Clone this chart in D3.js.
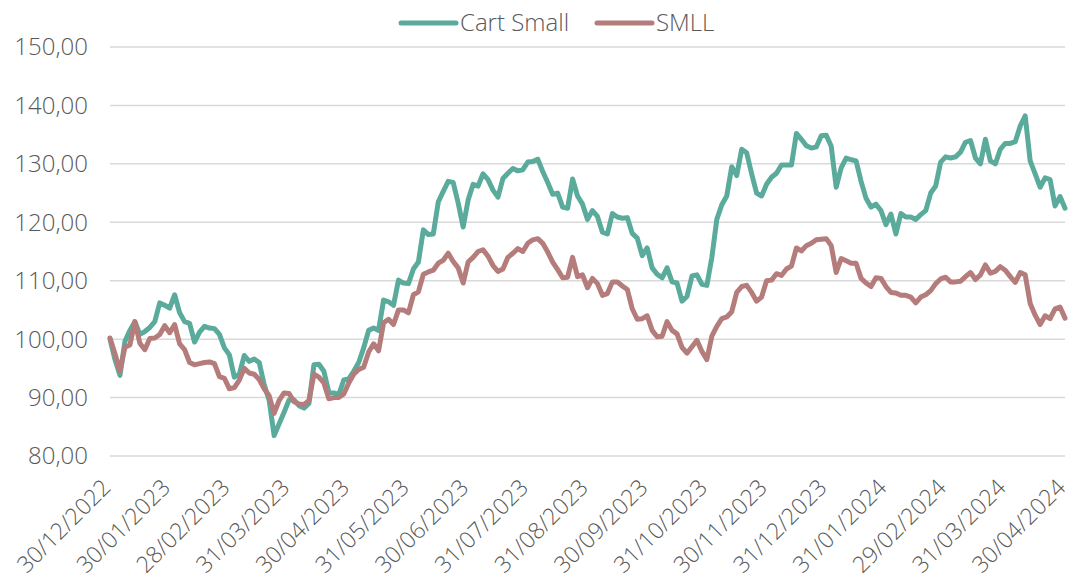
<!DOCTYPE html>
<html>
<head>
<meta charset="utf-8">
<script src="https://cdn.jsdelivr.net/npm/d3@7"></script>
<style>
  body { margin: 0; background: #fff; }
  svg { font-family: "Open Sans", sans-serif; font-weight: 300; }
</style>
</head>
<body>
<div id="chart"></div>
<script>
// month-end labels on the category axis, 12 samples per month between labels
const monthLabels = ['30/12/2022', '30/01/2023', '28/02/2023', '31/03/2023', '30/04/2023',
  '31/05/2023', '30/06/2023', '31/07/2023', '31/08/2023', '30/09/2023', '31/10/2023',
  '30/11/2023', '31/12/2023', '31/01/2024', '29/02/2024', '31/03/2024', '30/04/2024'];
const samplesPerMonth = 12;

const seriesNames = ['Cart Small', 'SMLL'];

const cartSmall = [
  100, 96.5, 93.8, 99.6, 101.5, 103, 100.8, 101.3, 102, 103, 106.2, 105.8,
  105.3, 107.6, 104.5, 103, 102.7, 99.5, 101.2, 102.2, 101.9, 101.8, 100.8, 98.5,
  97.3, 93.5, 94, 97.2, 96.2, 96.6, 96, 92.2, 89.5, 83.5, 85.5, 87.5,
  89.6, 89.6, 88.6, 88.2, 89, 95.6, 95.7, 94.5, 90.9, 90.8, 90.5, 93,
  93.2, 94.5, 96, 98.5, 101.5, 101.9, 101.5, 106.7, 106.4, 105.8, 110.1, 109.6,
  109.5, 112, 113.2, 118.7, 117.9, 118, 123.5, 125.3, 127, 126.8, 123.3, 119.2,
  123.8, 126.5, 126.2, 128.3, 127.3, 125.5, 124.3, 127.5, 128.4, 129.2, 128.8, 129,
  130.3, 130.4, 130.8, 128.7, 126.8, 124.8, 125, 122.6, 122.4, 127.4, 124.5, 123.1,
  120.5, 122, 121, 118.3, 118, 121.5, 120.9, 120.7, 120.8, 118.1, 117.3, 114.3,
  115.6, 112.2, 111.1, 110.5, 112.2, 109.8, 109.6, 106.5, 107.3, 110.8, 111, 109.4,
  109.2, 114, 120.5, 123, 124.5, 129.5, 128, 132.5, 131.9, 128.3, 125, 124.5,
  126.5, 127.7, 128.4, 129.8, 129.8, 129.8, 135.2, 134.2, 133.1, 132.7, 132.9, 134.8,
  134.9, 133, 126, 129.3, 131, 130.7, 130.5, 127, 124.1, 122.6, 123.1, 122,
  119.6, 121.4, 118, 121.5, 120.9, 120.9, 120.5, 121.3, 122, 125, 126.2, 130.3,
  131.2, 131, 131.2, 132, 133.7, 134, 131, 130, 134.2, 130.5, 130, 132.5,
  133.5, 133.5, 133.8, 136.5, 138.2, 130.5, 128.3, 126, 127.6, 127.3, 122.8, 124.4,
  122.4
];

const smll = [
  100.2, 97.5, 94.5, 98.6, 99, 103, 99.3, 98.2, 100.1, 100.2, 100.8, 102.3,
  101.1, 102.5, 99.2, 98.2, 96, 95.6, 95.8, 96, 96.1, 95.8, 93.6, 93.3,
  91.5, 91.7, 93, 95, 94.2, 94, 93.1, 91.5, 90.3, 87.3, 89.5, 90.8,
  90.7, 89.3, 88.9, 88.8, 89.5, 94, 93.5, 92.5, 89.8, 90, 90, 90.6,
  92.5, 94, 94.8, 95.2, 97.8, 99.2, 98, 102.8, 103.4, 102.5, 105, 105,
  104.5, 107.6, 108.1, 111.1, 111.5, 111.8, 113, 113.5, 114.7, 113.3, 112.2, 109.6,
  113.2, 114, 115, 115.3, 114.2, 112.6, 111.6, 112, 114, 114.7, 115.5, 115,
  116.4, 117, 117.2, 116.4, 114.9, 113.2, 111.9, 110.5, 110.6, 114, 110.7, 111,
  108.8, 110.4, 109.5, 107.5, 107.8, 109.8, 109.8, 109.1, 108.5, 105.2, 103.4, 103.5,
  104, 101.5, 100.4, 100.5, 103, 101.5, 100.9, 98.6, 97.6, 98.7, 99.8, 97.9,
  96.5, 100.5, 102.2, 103.5, 103.8, 104.7, 108, 109, 109.2, 108, 106.5, 107.2,
  110, 110.1, 111.2, 110.9, 112, 112.5, 115.6, 115.1, 116, 116.4, 117, 117.1,
  117.2, 116, 111.4, 113.8, 113.4, 113, 113, 110.4, 109.6, 109, 110.5, 110.4,
  109, 108, 107.9, 107.5, 107.5, 107.2, 106.2, 107.2, 107.6, 108.3, 109.5, 110.3,
  110.6, 109.8, 109.8, 109.9, 110.7, 111.4, 110.2, 111, 112.7, 111.3, 111.6, 112.4,
  111.8, 110.7, 109.7, 111.4, 111, 106.1, 104.1, 102.5, 104, 103.5, 105.2, 105.5,
  103.6
];

const yTicks = [80, 90, 100, 110, 120, 130, 140, 150];

const width = 1071, height = 583;
const margin = {top: 47, right: 6, bottom: 127, left: 110};
const colors = ['#5aab9c', '#b47c7a'];
const textColor = '#595959';

const locale = d3.formatLocale({decimal: ',', thousands: '.', grouping: [3], currency: ['', '€']});
const fmt = locale.format('.2f');

const x = d3.scaleLinear()
  .domain([0, (monthLabels.length - 1) * samplesPerMonth])
  .range([margin.left, width - margin.right]);
const y = d3.scaleLinear()
  .domain([80, 150])
  .range([height - margin.bottom, margin.top]);

const svg = d3.select('#chart').append('svg')
  .attr('width', width)
  .attr('height', height)
  .attr('viewBox', [0, 0, width, height]);

// horizontal grid
svg.append('g')
  .selectAll('line')
  .data(yTicks)
  .join('line')
  .attr('x1', x.range()[0])
  .attr('x2', x.range()[1])
  .attr('y1', d => y(d))
  .attr('y2', d => y(d))
  .attr('stroke', '#d9d9d9')
  .attr('stroke-width', 1.5);

// y labels
svg.append('g')
  .selectAll('text')
  .data(yTicks)
  .join('text')
  .attr('x', 88)
  .attr('y', d => y(d))
  .attr('dy', '0.35em')
  .attr('text-anchor', 'end')
  .attr('fill', textColor)
  .style('font-size', '24px')
  .text(d => fmt(d));

// x labels, rotated
svg.append('g')
  .selectAll('text')
  .data(monthLabels)
  .join('text')
  .attr('transform', (d, i) => `translate(${x(i * samplesPerMonth) + 2},${height - margin.bottom + 33}) rotate(-45)`)
  .attr('text-anchor', 'end')
  .attr('fill', textColor)
  .style('font-size', '23px')
  .text(d => d);

const line = d3.line()
  .x((d, i) => x(i))
  .y(d => y(d));

svg.append('g')
  .selectAll('path')
  .data([cartSmall, smll])
  .join('path')
  .attr('d', line)
  .attr('fill', 'none')
  .attr('stroke', (d, i) => colors[i])
  .attr('stroke-width', 5)
  .attr('stroke-linejoin', 'round')
  .attr('stroke-linecap', 'round');

// legend
const legend = svg.append('g')
  .selectAll('g')
  .data(seriesNames)
  .join('g')
  .attr('transform', (d, i) => `translate(${[401, 597][i]},23)`);

legend.append('line')
  .attr('x1', 0)
  .attr('x2', 55)
  .attr('stroke', (d, i) => colors[i])
  .attr('stroke-width', 5)
  .attr('stroke-linecap', 'round');

legend.append('text')
  .attr('x', 59)
  .attr('dy', '0.35em')
  .attr('fill', textColor)
  .style('font-size', '24px')
  .text(d => d);
</script>
</body>
</html>
